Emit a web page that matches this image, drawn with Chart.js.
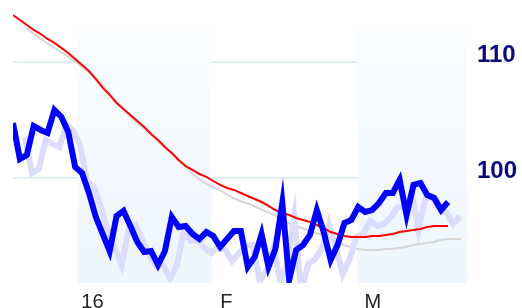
<!DOCTYPE html>
<html>
<head>
<meta charset="utf-8">
<script src="https://cdn.jsdelivr.net/npm/chart.js@4.4.1/dist/chart.umd.min.js"></script>
<style>
  html, body { margin: 0; padding: 0; background: #fff; }
  #wrap { width: 522px; height: 308px; }
</style>
</head>
<body>
<div id="wrap"><canvas id="priceChart"></canvas></div>
<script>
// daily closes (Dec 15 - mid Mar 16)
const price = [104.74, 101.64, 101.98, 104.48, 104.14, 103.88, 105.86, 105.26, 103.97, 100.95,
  100.43, 98.71, 96.64, 95.17, 93.71, 96.72, 97.16, 95.86, 94.48, 93.62,
  93.71, 92.50, 93.71, 96.64, 95.78, 95.86, 95.17, 94.74, 95.34, 95.00,
  94.05, 94.74, 95.43, 95.43, 92.33, 93.19, 95.17, 92.33, 93.88, 97.84,
  91.21, 93.79, 94.22, 95.09, 97.24, 95.34, 92.93, 94.22, 96.12, 96.38,
  97.50, 97.07, 97.24, 97.84, 98.71, 98.71, 99.83, 96.81, 99.40, 99.57,
  98.53, 98.28, 97.24, 97.93];

// moving average
const avg = [114.05, 113.62, 113.19, 112.76, 112.41, 111.98, 111.64, 111.21, 110.78, 110.26,
  109.74, 109.22, 108.53, 107.76, 107.16, 106.47, 105.95, 105.43, 104.91, 104.40,
  103.79, 103.28, 102.67, 102.16, 101.55, 101.03, 100.69, 100.34, 100.09, 99.74,
  99.40, 99.14, 98.97, 98.71, 98.45, 98.19, 97.93, 97.59, 97.24, 96.98,
  96.81, 96.55, 96.38, 96.21, 95.95, 95.69, 95.34, 95.17, 95.00, 94.91,
  94.91, 94.91, 95.00, 95.00, 95.09, 95.17, 95.34, 95.43, 95.52, 95.60,
  95.78, 95.86, 95.86, 95.86];

const monthLabels = ['16', 'F', 'M'];
const monthStarts = [9.3, 28.7, 49.9];   // index where each month begins
const shadedMonths = [0, 2];              // Jan and Mar get a band
const yTicks = [100, 110];

const xMin = 0, xMax = 65.75;
const yMin = 90.95, yMax = 115.34;
const bandTop = 112.84;

const toXY = arr => arr.map((v, i) => ({ x: i, y: v }));

// month bands behind the lines
const bandsPlugin = {
  id: 'bands',
  beforeDatasetsDraw(chart) {
    const { ctx, chartArea, scales: { x, y } } = chart;
    const top = y.getPixelForValue(bandTop);
    const grad = ctx.createLinearGradient(0, top, 0, chartArea.bottom);
    grad.addColorStop(0, '#fafdff');
    grad.addColorStop(1, '#eef5fd');
    ctx.save();
    ctx.fillStyle = grad;
    shadedMonths.forEach(m => {
      const x0 = x.getPixelForValue(monthStarts[m]);
      const x1 = m + 1 < monthStarts.length ? x.getPixelForValue(monthStarts[m + 1]) : chartArea.right;
      ctx.fillRect(x0, top, x1 - x0, chartArea.bottom - top);
    });
    ctx.restore();
  }
};

// offset copies of the lines for the drop shadow look
const shadowPlugin = {
  id: 'shadowShift',
  beforeDatasetDraw(chart, args) {
    const ds = chart.data.datasets[args.index];
    if (!ds.shift) return;
    const a = chart.chartArea;
    chart.ctx.save();
    chart.ctx.beginPath();
    chart.ctx.rect(a.left, 0, chart.width - a.left, a.bottom);
    chart.ctx.clip();
    chart.ctx.translate(ds.shift[0], ds.shift[1]);
  },
  afterDatasetDraw(chart, args) {
    const ds = chart.data.datasets[args.index];
    if (ds.shift) chart.ctx.restore();
  }
};

const ctx = document.getElementById('priceChart').getContext('2d');
const priceChart = new Chart(ctx, {
  type: 'line',
  data: {
    datasets: [
      { data: toXY(price), borderColor: '#0000ff', borderWidth: 6, order: 0 },
      { data: toXY(avg), borderColor: '#ff0000', borderWidth: 2, order: 1 },
      { data: toXY(price), borderColor: '#dcdcfd', borderWidth: 6, order: 2, shift: [12, 14], clip: false },
      { data: toXY(avg), borderColor: '#d6d6d6', borderWidth: 2, order: 3, shift: [13, 13], clip: false }
    ]
  },
  options: {
    responsive: true,
    maintainAspectRatio: false,
    animation: false,
    elements: { point: { radius: 0 }, line: { tension: 0 } },
    layout: { padding: { left: 13, right: 0, top: 0, bottom: 0 } },
    plugins: { legend: { display: false }, tooltip: { enabled: false } },
    scales: {
      x: {
        type: 'linear',
        min: xMin,
        max: xMax,
        grid: { display: false, drawTicks: false },
        border: { display: false },
        afterBuildTicks: axis => { axis.ticks = monthStarts.map(v => ({ value: v + 2.2 })); },
        afterFit: axis => {
          axis.height = 25;
          axis.paddingLeft = 0;
          axis.paddingRight = 0;
        },
        ticks: {
          autoSkip: false,
          maxRotation: 0,
          padding: 7,
          color: '#222',
          font: { family: '"Liberation Sans", Arial, sans-serif', size: 20 },
          callback: (v, i) => monthLabels[i]
        }
      },
      y: {
        position: 'right',
        min: yMin,
        max: yMax,
        grid: { color: '#deeefc', lineWidth: 2, drawTicks: false },
        border: { display: false },
        afterBuildTicks: axis => { axis.ticks = yTicks.map(v => ({ value: v })); },
        afterFit: axis => {
          axis.width = 55;
          axis.paddingTop = 0;
          axis.paddingBottom = 0;
        },
        ticks: {
          padding: 10,
          labelOffset: -7,
          color: '#0a0a80',
          font: { family: '"Liberation Sans", Arial, sans-serif', size: 24, weight: 'bold' }
        }
      }
    }
  },
  plugins: [bandsPlugin, shadowPlugin]
});
</script>
</body>
</html>
